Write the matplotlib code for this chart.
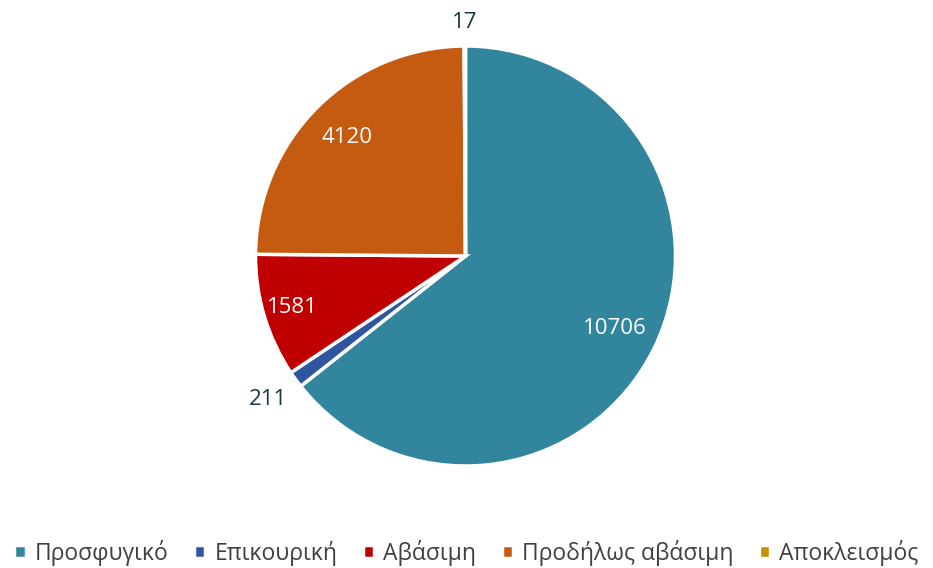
import numpy as np
import matplotlib
matplotlib.use("Agg")
import matplotlib.pyplot as plt

plt.rcParams['font.family'] = ['Open Sans', 'DejaVu Sans']

categories = ['Προσφυγικό', 'Επικουρική', 'Αβάσιμη', 'Προδήλως αβάσιμη', 'Αποκλεισμός']
values = [10706, 211, 1581, 4120, 17]
colors = ['#31859C', '#2E55A0', '#C00000', '#C55A11', '#BF9000']

# label placement (fraction of radius) and colour per slice
label_r = [0.79, 1.16, 0.86, 0.80, 1.11]
label_c = ['white', '#17393D', 'white', 'white', '#17393D']

fig = plt.figure(figsize=(9.33, 5.68), dpi=100)
r_px = 210
cx, cy = 465.5, 256
ax = fig.add_axes([(cx - r_px) / 933, (568 - cy - r_px) / 568, 2 * r_px / 933, 2 * r_px / 568])

wedges, _ = ax.pie(values, colors=colors, startangle=90, counterclock=False,
                   wedgeprops=dict(edgecolor='white', linewidth=2.5))
ax.set_xlim(-1, 1)
ax.set_ylim(-1, 1)
ax.set_aspect('equal')

for w, v, rr, c in zip(wedges, values, label_r, label_c):
    mid = np.deg2rad((w.theta1 + w.theta2) / 2)
    ax.text(rr * np.cos(mid), rr * np.sin(mid), str(v), ha='center', va='center',
            fontsize=16, color=c)

fig.legend(wedges, categories, loc='center', bbox_to_anchor=(0.5, 1 - 553 / 568),
           ncol=5, frameon=False, fontsize=16.5, handlelength=0.5, handleheight=0.5,
           handletextpad=0.4, columnspacing=1.1, labelcolor='#404040')

fig.savefig('out.png', dpi=100)
